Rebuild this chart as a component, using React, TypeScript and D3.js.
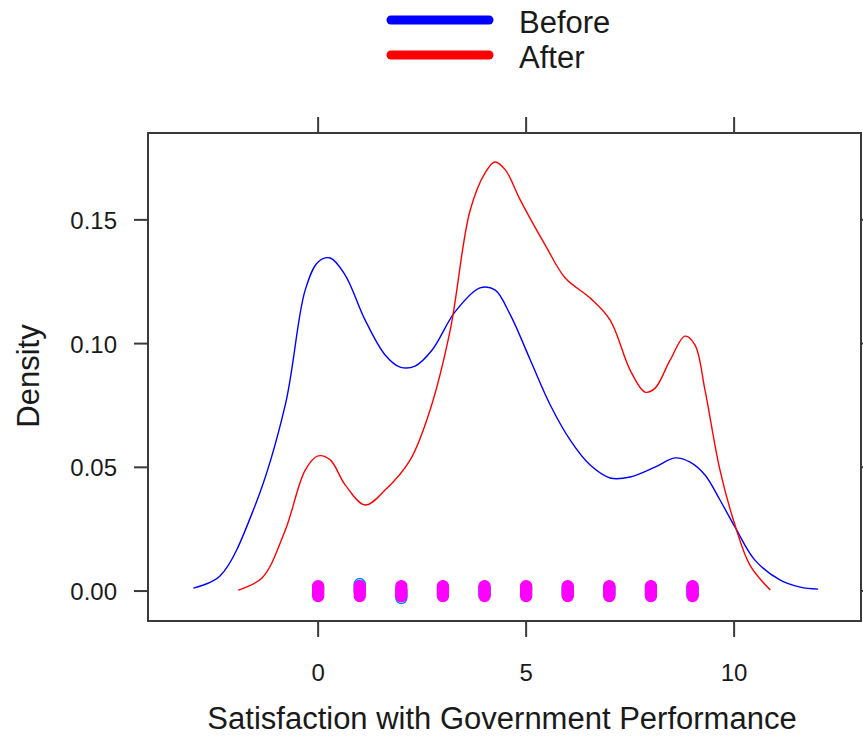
import * as d3 from "d3";

const W = 863;
const H = 736;

// plot frame in pixels
const FRAME = { left: 148, right: 861, top: 133, bottom: 621 };

const xTicks = [0, 5, 10];
const yTicks = [0, 0.05, 0.1, 0.15];
const yTickLabels = ["0.00", "0.05", "0.10", "0.15"];

const seriesNames = ["Before", "After"];
const seriesColors = ["#0000ff", "#ff0000"];
const pointColors = ["#0080ff", "#ff00ff"];

// density estimates: [x, density]
const beforeDensity: [number, number][] = [
  [-3.0, 0.0012], [-2.36, 0.0061], [-1.51, 0.0348], [-0.79, 0.0752],
  [-0.31, 0.1217], [0.0, 0.133], [0.29, 0.1346], [0.65, 0.1277],
  [1.13, 0.1095], [1.61, 0.0954], [1.97, 0.0905], [2.33, 0.0909],
  [2.74, 0.0974], [3.29, 0.1128], [3.89, 0.1225], [4.25, 0.1217],
  [4.62, 0.1116], [5.1, 0.0934], [5.58, 0.0752], [6.06, 0.061],
  [6.54, 0.0509], [7.02, 0.0457], [7.5, 0.0461], [8.1, 0.0501],
  [8.58, 0.0538], [8.94, 0.0521], [9.3, 0.0469], [9.66, 0.0368],
  [10.02, 0.0259], [10.5, 0.0125], [11.11, 0.0044], [11.59, 0.0016],
  [12.02, 0.0008],
];

const afterDensity: [number, number][] = [
  [-1.92, 0.0004], [-1.35, 0.0053], [-0.79, 0.0246], [-0.31, 0.0489],
  [0.0, 0.0546], [0.29, 0.053], [0.65, 0.0429], [1.13, 0.0348],
  [1.61, 0.0408], [2.21, 0.0529], [2.69, 0.0731], [3.17, 0.105],
  [3.65, 0.1536], [4.01, 0.1689], [4.25, 0.1734], [4.5, 0.1702],
  [4.86, 0.158], [5.46, 0.1398], [5.94, 0.1265], [6.54, 0.1184],
  [7.02, 0.1095], [7.5, 0.0893], [7.86, 0.0804], [8.1, 0.082],
  [8.46, 0.0933], [8.82, 0.103], [9.06, 0.0994], [9.3, 0.0812],
  [9.66, 0.0489], [10.02, 0.0267], [10.38, 0.0105], [10.87, 0.0004],
];

// observed values shown as jittered points at density 0
const beforeValues = [0, 1, 2, 3, 4, 5, 6, 7, 8, 9];
const afterValues = [0, 1, 2, 3, 4, 5, 6, 7, 8, 9];

// vertical jitter (px) of the stacked open circles
const beforeJitter = [-4, -2, 0, 2, 4];
const afterJitter = [-5, -2.5, 0, 2.5, 5];

const FONT = "'Liberation Sans', Arial, sans-serif";

export default function App() {
  const x = d3.scaleLinear().domain([-4.09, 13.05]).range([FRAME.left, FRAME.right]);
  const y = d3.scaleLinear().domain([-0.0121, 0.1851]).range([FRAME.bottom, FRAME.top]);

  const line = d3
    .line<[number, number]>()
    .x((d) => x(d[0]))
    .y((d) => y(d[1]))
    .curve(d3.curveCatmullRom.alpha(0.5));

  const frameColor = "#3a3a3a";
  const textColor = "#1a1a1a";

  return (
    <svg
      width={W}
      height={H}
      style={{ position: "absolute", left: 0, top: 0, background: "#fff" }}
      fontFamily={FONT}
    >
      {/* legend */}
      {seriesNames.map((name, i) => (
        <g key={name}>
          <line
            x1={391}
            x2={489}
            y1={20 + i * 35}
            y2={20 + i * 35}
            stroke={seriesColors[i]}
            strokeWidth={9}
            strokeLinecap="round"
          />
          <text x={519} y={33 + i * 35} fontSize={31} fill={textColor}>
            {name}
          </text>
        </g>
      ))}

      {/* frame */}
      <rect
        x={FRAME.left}
        y={FRAME.top}
        width={FRAME.right - FRAME.left}
        height={FRAME.bottom - FRAME.top}
        fill="none"
        stroke={frameColor}
        strokeWidth={2}
      />

      {/* x ticks, bottom and top */}
      {xTicks.map((t) => (
        <g key={t}>
          <line x1={x(t)} x2={x(t)} y1={FRAME.bottom} y2={FRAME.bottom + 16} stroke={frameColor} strokeWidth={2} />
          <line x1={x(t)} x2={x(t)} y1={FRAME.top} y2={FRAME.top - 16} stroke={frameColor} strokeWidth={2} />
          <text x={x(t)} y={681} textAnchor="middle" fontSize={24} fill={textColor}>
            {t}
          </text>
        </g>
      ))}

      {/* y ticks, left and right */}
      {yTicks.map((t, i) => (
        <g key={t}>
          <line x1={FRAME.left} x2={FRAME.left - 14} y1={y(t)} y2={y(t)} stroke={frameColor} strokeWidth={2} />
          <line x1={FRAME.right} x2={FRAME.right + 14} y1={y(t)} y2={y(t)} stroke={frameColor} strokeWidth={2} />
          <text x={117} y={y(t) + 9} textAnchor="end" fontSize={24} fill={textColor}>
            {yTickLabels[i]}
          </text>
        </g>
      ))}

      {/* density curves */}
      <path d={line(beforeDensity) ?? ""} fill="none" stroke={seriesColors[0]} strokeWidth={1.4} />
      <path d={line(afterDensity) ?? ""} fill="none" stroke={seriesColors[1]} strokeWidth={1.4} />

      {/* points: before first, after drawn over them */}
      {beforeValues.map((v) =>
        beforeJitter.map((j, k) => (
          <circle
            key={`b-${v}-${k}`}
            cx={x(v)}
            cy={y(0) + j + (v === 1 ? -3 : v === 2 ? 3 : 0)}
            r={5.5}
            fill="none"
            stroke={pointColors[0]}
            strokeWidth={1.4}
          />
        ))
      )}
      {afterValues.map((v) =>
        afterJitter.map((j, k) => (
          <circle
            key={`a-${v}-${k}`}
            cx={x(v)}
            cy={y(0) + j}
            r={5.5}
            fill={v === 8 && k === 2 ? "none" : pointColors[1]}
            stroke={pointColors[1]}
            strokeWidth={1.3}
          />
        ))
      )}

      {/* axis titles */}
      <text x={502} y={729} textAnchor="middle" fontSize={31} fill={textColor}>
        Satisfaction with Government Performance
      </text>
      <text
        transform={`translate(39, 376) rotate(-90)`}
        textAnchor="middle"
        fontSize={31}
        fill={textColor}
      >
        Density
      </text>
    </svg>
  );
}
